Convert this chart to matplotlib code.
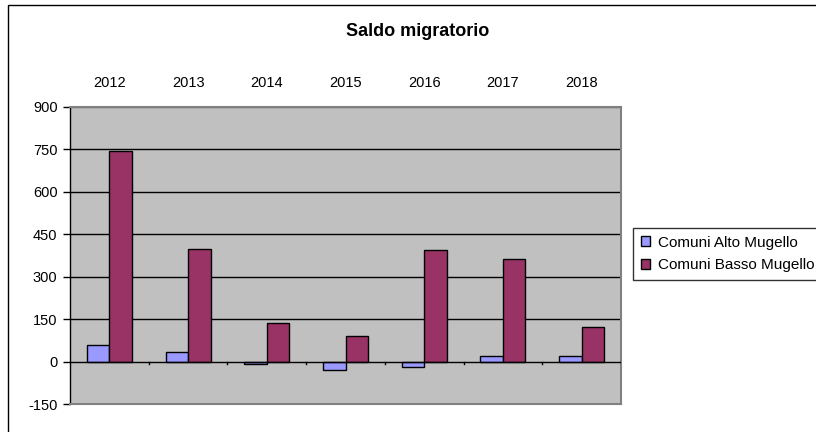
import matplotlib
matplotlib.use("Agg")
import matplotlib.pyplot as plt
import numpy as np
from matplotlib.patches import Rectangle

years = ["2012", "2013", "2014", "2015", "2016", "2017", "2018"]
alto = [59, 34, -9, -30, -19, 20, 20]
basso = [743, 399, 138, 89, 393, 364, 123]
series_names = ["Comuni Alto Mugello", "Comuni Basso Mugello"]
yticks = [-150, 0, 150, 300, 450, 600, 750, 900]

plt.rcParams['font.family'] = ['Liberation Sans', 'DejaVu Sans']

W, H = 816, 432
fig = plt.figure(figsize=(W / 100, H / 100), dpi=100)
fig.patch.set_facecolor("white")

# outer chart frame (right/bottom off the image)
fig.add_artist(Rectangle((8 / W, -0.05), 1.2, (H - 5) / H + 0.05, transform=fig.transFigure,
                         fill=False, edgecolor="black", linewidth=1.0))

ax = fig.add_axes([70 / W, (H - 404) / H, (621 - 70) / W, (404 - 107) / H])
ax.set_facecolor("#C0C0C0")

n = len(years)
x = np.arange(n)
bw = 1 / 3.5
ax.bar(x - bw / 2, alto, width=bw, color="#9999FF", edgecolor="black", linewidth=1.0,
       label=series_names[0], zorder=3)
ax.bar(x + bw / 2, basso, width=bw, color="#993366", edgecolor="black", linewidth=1.0,
       label=series_names[1], zorder=3)

ax.set_xlim(-0.5, n - 0.5)
ax.set_ylim(-150, 900)
ax.set_yticks(yticks)
ax.set_yticklabels([str(v) for v in yticks], fontsize=10.5)
for v in yticks:
    if v not in (-150, 0, 900):
        ax.axhline(v, color="black", linewidth=1.0, zorder=1)
ax.axhline(0, color="black", linewidth=1.0, zorder=4)
ax.axhline(900, color="#555555", linewidth=1.0, zorder=1)

# category tick marks on the zero line
for b in np.arange(0.5, n - 0.5, 1.0):
    ax.plot([b, b], [0, -8], color="black", linewidth=1.0, zorder=4, clip_on=False)

ax.set_xticks(x)
ax.set_xticklabels(years, fontsize=10.5)
ax.xaxis.tick_top()
ax.tick_params(axis="x", length=0, pad=12)
ax.tick_params(axis="y", length=5, width=1.0, color="black", pad=4)

for s in ["top", "right", "bottom"]:
    ax.spines[s].set_color("#808080")
    ax.spines[s].set_linewidth(1.5)
ax.spines["left"].set_color("black")
ax.spines["left"].set_linewidth(1.0)

fig.text(418 / W, 1 - 31 / H, "Saldo migratorio", ha="center", va="center",
         fontsize=13, fontweight="bold")

leg = fig.legend(loc="upper left", bbox_to_anchor=(633 / W, 1 - 228 / H), fontsize=11,
                 frameon=True, fancybox=False, edgecolor="black", handlelength=0.6,
                 handleheight=0.6, handletextpad=0.55, borderpad=0.5, labelspacing=0.58,
                 borderaxespad=0)
leg.get_frame().set_linewidth(1.0)

fig.savefig("out.png", dpi=100)
